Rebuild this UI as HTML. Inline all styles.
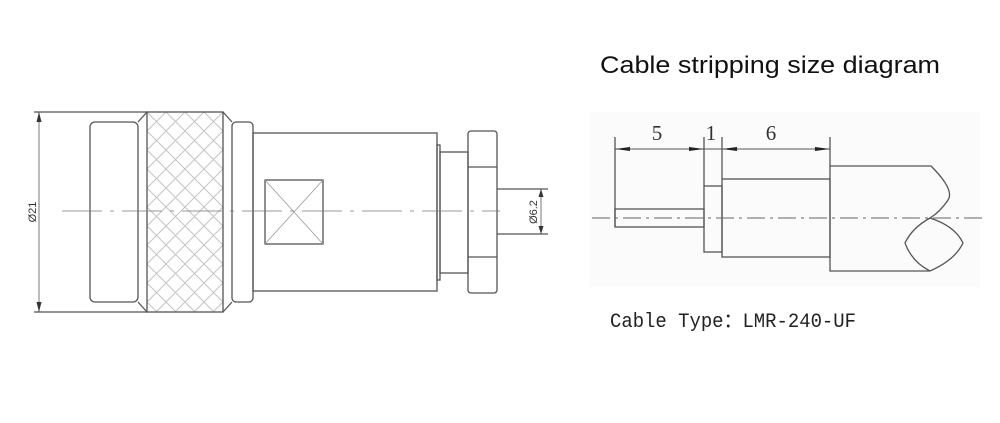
<!DOCTYPE html>
<html><head><meta charset="utf-8"><style>
html,body{margin:0;padding:0;background:#fff;}
svg{display:block}
</style></head><body>
<svg width="1000" height="423" viewBox="0 0 1000 423" xmlns="http://www.w3.org/2000/svg">
<defs>
<pattern id="kn" width="19" height="19" patternUnits="userSpaceOnUse" x="147" y="112">
<path d="M0 0 L19 19 M19 0 L0 19" stroke="#c4c4c4" stroke-width="1" fill="none"/>
</pattern>
</defs>
<rect x="0" y="0" width="1000" height="423" fill="#fff"/>
<!-- LEFT DRAWING -->
<g stroke="#555" stroke-width="1.3" fill="none">
<line x1="34" y1="112" x2="148" y2="112"/>
<line x1="34" y1="312" x2="148" y2="312"/>
<line x1="39" y1="112" x2="39" y2="312" stroke-width="0.8"/>
<rect x="90" y="122" width="48" height="180" rx="5" fill="#fff"/>
<path d="M138 122 L147 112 M138 302 L147 312 M223 112 L232 122 M223 312 L232 302"/>
<rect x="147" y="112" width="76" height="200" fill="url(#kn)"/>
<rect x="232" y="122" width="21" height="180" rx="4"/>
<rect x="253" y="133" width="184" height="158"/>
<rect x="437" y="145" width="3" height="135"/>
<rect x="440" y="152" width="28" height="121"/>
<rect x="468" y="131" width="29" height="162" rx="3"/>
<line x1="468" y1="167" x2="497" y2="167"/>
<line x1="468" y1="257" x2="497" y2="257"/>
<line x1="497" y1="189" x2="548" y2="189"/>
<line x1="497" y1="234" x2="548" y2="234"/>
<line x1="541" y1="189" x2="541" y2="234" stroke-width="0.8"/>
<rect x="265" y="180" width="58" height="64"/>
<path d="M265 180 L323 244 M323 180 L265 244" stroke="#999" stroke-width="0.8"/>
<line x1="62" y1="211" x2="500" y2="211" stroke="#777" stroke-width="0.8" stroke-dasharray="40 8 4 8"/>
</g>
<g fill="#333">
<path d="M39 112 L36.5 122 L41.5 122 Z"/>
<path d="M39 312 L36.5 302 L41.5 302 Z"/>
<path d="M541 189 L538.5 197 L543.5 197 Z"/>
<path d="M541 234 L538.5 226 L543.5 226 Z"/>
</g>
<text x="0" y="0" transform="translate(36,212) rotate(-90)" text-anchor="middle" font-family="Liberation Sans, sans-serif" font-size="11" fill="#333">Ø21</text>
<text x="0" y="0" transform="translate(537,212) rotate(-90)" text-anchor="middle" font-family="Liberation Sans, sans-serif" font-size="11" fill="#333">Ø6.2</text>

<!-- RIGHT DRAWING -->
<rect x="590" y="112" width="390" height="175" fill="#fbfbfb"/>
<text x="600" y="73" font-family="Liberation Sans, sans-serif" font-size="24" fill="#111" textLength="340" lengthAdjust="spacingAndGlyphs">Cable stripping size diagram</text>
<g stroke="#555" stroke-width="1.3" fill="none">
<line x1="615" y1="137" x2="615" y2="227"/>
<line x1="704" y1="137" x2="704" y2="186"/>
<line x1="722" y1="137" x2="722" y2="179"/>
<line x1="830" y1="137" x2="830" y2="166"/>
<line x1="615" y1="149" x2="830" y2="149" stroke-width="0.9"/>
<rect x="615" y="209" width="89" height="18"/>
<rect x="704" y="186" width="18" height="66"/>
<rect x="722" y="179" width="108" height="78"/>
<path d="M830 166 L931 166 Q955 190 948 200 Q940 212 930 218 Q912 228 905 243 Q912 262 930 271 L830 271 Z"/>
<path d="M930 218 Q955 226 963 243 Q955 260 930 271"/>
<line x1="592" y1="218" x2="987" y2="218" stroke="#666" stroke-width="1" stroke-dasharray="18 5 3 5"/>
</g>
<g fill="#222">
<path d="M615 149 L630 147 L630 151 Z"/>
<path d="M704 149 L689 147 L689 151 Z"/>
<path d="M722 149 L737 147 L737 151 Z"/>
<path d="M830 149 L815 147 L815 151 Z"/>
</g>
<g font-family="Liberation Serif, serif" font-size="21" fill="#333">
<text x="657" y="140" text-anchor="middle">5</text>
<text x="711" y="140" text-anchor="middle">1</text>
<text x="771" y="140" text-anchor="middle">6</text>
</g>
<text x="610" y="327" font-family="Liberation Mono, 'Noto Sans CJK SC', monospace" font-size="20" fill="#222" textLength="246" lengthAdjust="spacingAndGlyphs">Cable Type：LMR-240-UF</text>
</svg>
</body></html>
